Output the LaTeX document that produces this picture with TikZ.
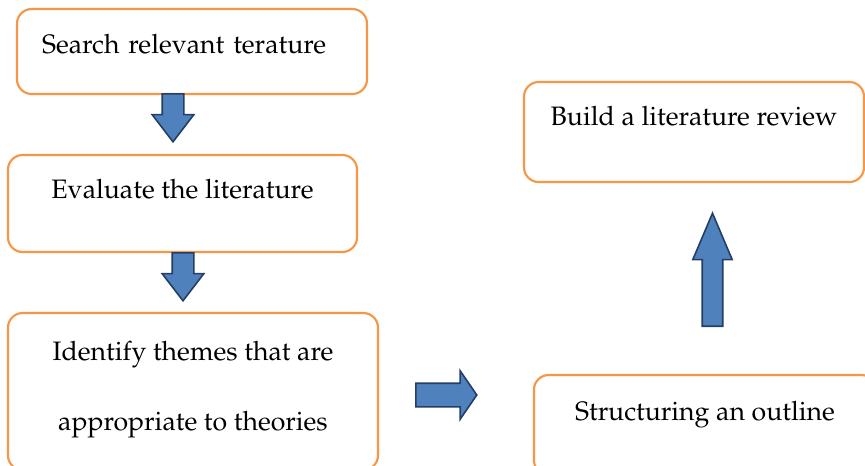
\documentclass[tikz,border=0pt]{standalone}
\usepackage[T1]{fontenc}
\usepackage{mathpazo}
\usetikzlibrary{shapes.arrows}
\definecolor{boxorange}{RGB}{247,150,70}
\definecolor{arrowfill}{RGB}{79,129,189}
\definecolor{arrowdraw}{RGB}{36,62,102}
\tikzset{
  stepbox/.style={draw=boxorange, line width=1.6pt, rounded corners=11pt, inner sep=0pt, font=\fontsize{20}{24}\selectfont},
  blockarrow/.style={single arrow, draw=arrowdraw, fill=arrowfill, line width=1.2pt, inner sep=0pt, minimum width=0pt, anchor=tail}
}
\begin{document}
\begin{tikzpicture}[x=0.75pt,y=0.75pt,yscale=-1,xscale=1]
\useasboundingbox (0,0) rectangle (865,465);

% Boxes
\node[stepbox, minimum height=63.75pt, text width=225pt, inner xsep=18.75pt, align=left, text height=33pt, text depth=30.75pt] (search) at (192,51.5) {Search relevant terature};
\node[stepbox, minimum width=261.75pt, minimum height=72.75pt, align=center, text height=32.25pt, text depth=40.5pt] (evaluate) at (182.5,203.5) {Evaluate the literature};
\node[stepbox, minimum width=277.5pt, minimum height=117.75pt, align=center, text height=87.75pt, text depth=30pt, font=\fontsize{20}{52.5}\selectfont] (themes) at (193,391.5) {Identify themes that are\\appropriate to theories};
\node[stepbox, minimum width=256.5pt, minimum height=75pt, align=center, text height=33.75pt, text depth=41.25pt] (outline) at (705,425) {Structuring an outline};
\node[stepbox, minimum width=255pt, minimum height=75pt, align=center, text height=32.25pt, text depth=42.75pt] (review) at (694,132) {Build a literature review};

% Block arrows
\node[blockarrow, rotate=-90, inner ysep=7.5pt, single arrow head extend=7.5pt, single arrow tip angle=75, minimum height=36pt] (arrowA) at (173,93) {};
\node[blockarrow, rotate=-90, inner ysep=7.5pt, single arrow head extend=7.5pt, single arrow tip angle=75, minimum height=36pt] (arrowB) at (183,252) {};
\node[blockarrow, inner ysep=8.25pt, single arrow head extend=9.4pt, single arrow tip angle=111, minimum height=45.75pt] (arrowC) at (415,395) {};
\node[blockarrow, rotate=90, inner ysep=7.1pt, single arrow head extend=7.1pt, single arrow tip angle=46, minimum height=84.75pt] (arrowD) at (712.5,327) {};

\end{tikzpicture}
\end{document}
